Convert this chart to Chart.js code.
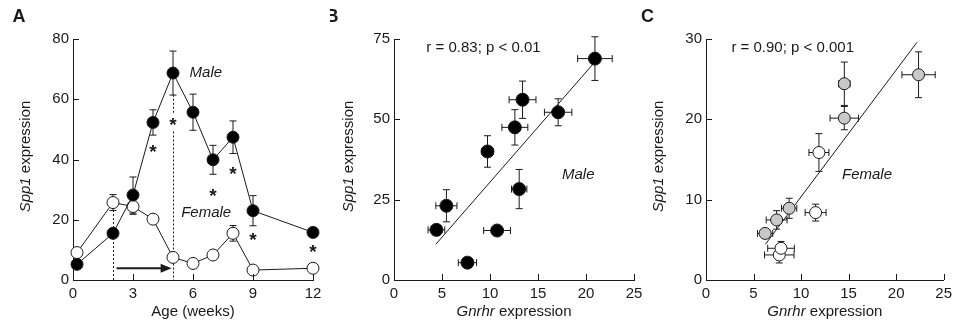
<!DOCTYPE html>
<html><head><meta charset="utf-8">
<script src="https://cdn.jsdelivr.net/npm/chart.js@4"></script>
<style>
html,body{margin:0;padding:0;background:#fff;}
#wrap{position:relative;width:957px;height:326px;overflow:hidden;background:#fff;}
canvas{position:absolute;top:0;}
</style></head><body>
<div id="wrap">
<canvas id="cA" width="330" height="326" style="left:0px"></canvas>
<canvas id="cB" width="320" height="326" style="left:330px"></canvas>
<canvas id="cC" width="317" height="326" style="left:640px"></canvas>
</div>
<script>
// ---------- Panel A: Spp1 expression vs age ----------
const ageWeeks      = [0.2, 2, 3, 4, 5, 6, 7, 8, 9, 12];
const maleSpp1      = [5.2, 15.5, 28.2, 52.3, 68.7, 55.7, 39.9, 47.4, 23.0, 15.8];
const maleSpp1Err   = [1.0, 1.5, 6.0, 4.2, 7.3, 6.0, 4.8, 5.4, 5.0, 1.2];
const femaleSpp1    = [9.1, 25.7, 24.4, 20.2, 7.5, 5.5, 8.3, 15.5, 3.3, 3.9];
const femaleSpp1Err = [1.0, 2.65, 2.6, 1.2, 1.0, 0.8, 1.0, 2.6, 0.8, 0.8];
const sigWeeks      = [4, 5, 7, 8, 9, 12];
const sigLevels     = [44.3, 53.2, 29.7, 36.8, 15.0, 11.1];
const ageTicks      = [0, 3, 6, 9, 12];
const spp1TicksA    = [0, 20, 40, 60, 80];

// ---------- Panel B: male Spp1 vs Gnrhr ----------
const maleGnrhr      = [4.42, 5.46, 7.65, 9.74, 10.74, 12.59, 13.04, 13.39, 17.1, 20.93];
const maleGnrhrErr   = [0.87, 1.1, 0.95, 0.6, 1.4, 1.35, 0.8, 1.4, 1.43, 1.8];
const maleSpp1B      = [15.6, 23.1, 5.4, 40.0, 15.4, 47.5, 28.3, 56.1, 52.2, 68.9];
const maleSpp1BErr   = [1.0, 5.0, 1.0, 4.9, 1.0, 5.5, 6.1, 5.8, 4.2, 6.8];
const maleFitX       = [4.35, 20.76];
const maleFitY       = [11.1, 67.3];
const gnrhrTicks     = [0, 5, 10, 15, 20, 25];
const spp1TicksB     = [0, 25, 50, 75];

// ---------- Panel C: female Spp1 vs Gnrhr ----------
const femGreyGnrhr    = [6.22, 7.43, 8.75, 14.55, 14.55, 22.36];
const femGreyGnrhrErr = [0.8, 1.1, 0.8, 1.5, 0.6, 1.75];
const femGreySpp1     = [5.8, 7.48, 8.93, 20.15, 24.43, 25.55];
const femGreySpp1Err  = [0.4, 1.15, 1.25, 1.45, 2.7, 2.85];
const femWhiteGnrhr    = [7.71, 7.89, 11.53, 11.88];
const femWhiteGnrhrErr = [1.55, 1.4, 1.1, 1.05];
const femWhiteSpp1     = [3.12, 3.95, 8.39, 15.87];
const femWhiteSpp1Err  = [1.0, 0.85, 1.05, 2.35];
const femFitX          = [6.25, 22.2];
const femFitY          = [4.45, 29.6];
const spp1TicksC       = [0, 10, 20, 30];

const FONT = '"Liberation Sans", Arial, Helvetica, sans-serif';
const INK = '#1a1a1a';

function pts(xs, ys){ return xs.map((x,i)=>({x:x, y:ys[i]})); }

function richWidth(ctx, parts, size){
  let w = 0;
  parts.forEach(p=>{ ctx.font = (p.i?'italic ':'') + (p.b?'bold ':'') + size + 'px ' + FONT; w += ctx.measureText(p.t).width; });
  return w;
}
function richText(ctx, parts, x, y, size, align, rot){
  ctx.save();
  ctx.translate(x, y);
  if (rot) ctx.rotate(rot);
  ctx.fillStyle = INK;
  ctx.textBaseline = 'middle';
  ctx.textAlign = 'left';
  const w = richWidth(ctx, parts, size);
  let cx = align === 'center' ? -w/2 : (align === 'right' ? -w : 0);
  parts.forEach(p=>{
    ctx.font = (p.i?'italic ':'') + (p.b?'bold ':'') + size + 'px ' + FONT;
    ctx.fillText(p.t, cx, 0);
    cx += ctx.measureText(p.t).width;
  });
  ctx.restore();
}

function makePlugin(cfg){
  return {
    id: 'panelDeco',
    beforeDatasetsDraw(chart){
      const ctx = chart.ctx, xs = chart.scales.x, ys = chart.scales.y;
      ctx.save();
      ctx.strokeStyle = INK; ctx.lineWidth = 1;
      // dotted guides
      (cfg.dotted||[]).forEach(d=>{
        ctx.save();
        ctx.setLineDash([2,2]);
        const px = Math.round(xs.getPixelForValue(d.x)) + 0.5;
        ctx.beginPath();
        ctx.moveTo(px, ys.getPixelForValue(d.y0));
        ctx.lineTo(px, ys.getPixelForValue(d.y1));
        ctx.stroke();
        ctx.restore();
      });
      // error bars
      chart.data.datasets.forEach((ds, di)=>{
        if (!ds.errY && !ds.errX) return;
        ds.data.forEach((p, j)=>{
          const px = xs.getPixelForValue(p.x), py = ys.getPixelForValue(p.y);
          const cap = 3.5;
          if (ds.errY){
            const e = ds.errY[j];
            const t = ys.getPixelForValue(p.y + e), b = ys.getPixelForValue(p.y - e);
            ctx.beginPath();
            ctx.moveTo(px, t); ctx.lineTo(px, b);
            ctx.moveTo(px-cap, t); ctx.lineTo(px+cap, t);
            ctx.moveTo(px-cap, b); ctx.lineTo(px+cap, b);
            ctx.stroke();
          }
          if (ds.errX){
            const e = ds.errX[j];
            const l = xs.getPixelForValue(p.x - e), r = xs.getPixelForValue(p.x + e);
            ctx.beginPath();
            ctx.moveTo(l, py); ctx.lineTo(r, py);
            ctx.moveTo(l, py-cap); ctx.lineTo(l, py+cap);
            ctx.moveTo(r, py-cap); ctx.lineTo(r, py+cap);
            ctx.stroke();
          }
        });
      });
      // arrow
      if (cfg.arrow){
        const a = cfg.arrow;
        const x0 = xs.getPixelForValue(a.x0), x1 = xs.getPixelForValue(a.x1), y = ys.getPixelForValue(a.y);
        ctx.lineWidth = 2;
        ctx.beginPath(); ctx.moveTo(x0, y); ctx.lineTo(x1-9, y); ctx.stroke();
        ctx.fillStyle = INK;
        ctx.beginPath(); ctx.moveTo(x1, y); ctx.lineTo(x1-11, y-4.5); ctx.lineTo(x1-11, y+4.5); ctx.closePath(); ctx.fill();
      }
      ctx.restore();
    },
    afterDatasetsDraw(chart){
      const ctx = chart.ctx, xs = chart.scales.x, ys = chart.scales.y;
      (cfg.labels||[]).forEach(l=>{
        richText(ctx, l.parts, xs.getPixelForValue(l.x), ys.getPixelForValue(l.y), l.size||15, l.align||'center');
      });
      if (cfg.stars){
        ctx.save();
        ctx.fillStyle = INK;
        ctx.font = 'bold 19px ' + FONT;
        ctx.textAlign = 'center';
        ctx.textBaseline = 'alphabetic';
        cfg.stars.x.forEach((x,i)=>{
          ctx.fillText('*', xs.getPixelForValue(x), ys.getPixelForValue(cfg.stars.y[i]) + 11);
        });
        ctx.restore();
      }
    },
    afterDraw(chart){
      const ctx = chart.ctx, xs = chart.scales.x, ys = chart.scales.y, ca = chart.chartArea;
      ctx.save();
      ctx.strokeStyle = INK; ctx.lineWidth = 1;
      ctx.beginPath();
      xs.ticks.forEach(t=>{
        const px = Math.round(xs.getPixelForValue(t.value)) + 0.5;
        ctx.moveTo(px, ca.bottom); ctx.lineTo(px, ca.bottom - 6);
      });
      ys.ticks.forEach(t=>{
        const py = Math.round(ys.getPixelForValue(t.value)) + 0.5;
        ctx.moveTo(ca.left, py); ctx.lineTo(ca.left + 6, py);
      });
      ctx.stroke();
      ctx.restore();
      // axis titles
      richText(ctx, cfg.xTitle, (ca.left+ca.right)/2 + (cfg.xTitleDx||0), 311.5, 15, 'center');
      richText(ctx, cfg.yTitle, cfg.yTitleX, 156.5, 15, 'center', -Math.PI/2);
      // panel letter
      richText(ctx, [{t:cfg.letter, b:true}], cfg.letterX, 17, 18, 'center');
    }
  };
}

function axisCfg(min, max, ticks, fitProp, fitVal, pad){
  return {
    type: 'linear', min: min, max: max,
    afterBuildTicks: s => { s.ticks = ticks.map(v=>({value:v})); },
    afterFit: s => { s[fitProp] = fitVal; },
    grid: { display: false, drawTicks: false },
    border: { display: true, color: INK, width: 1 },
    ticks: { color: INK, font: { family: FONT, size: 15 }, padding: pad, autoSkip: false, maxRotation: 0 }
  };
}

function baseOptions(xAx, yAx, padRight){
  return {
    responsive: false, animation: false, devicePixelRatio: 1,
    layout: { padding: { left: 0, top: 39, right: padRight, bottom: 0 } },
    plugins: { legend: { display: false }, tooltip: { enabled: false }, title: { display: false } },
    scales: { x: xAx, y: yAx }
  };
}

const pointStyle = (bg, r) => ({ pointRadius: r, pointBackgroundColor: bg, pointBorderColor: INK, pointBorderWidth: 1, clip: false });

// ---- Chart A ----
new Chart(document.getElementById('cA'), {
  type: 'scatter',
  data: { datasets: [
    Object.assign({ label: 'Male', data: pts(ageWeeks, maleSpp1), errY: maleSpp1Err, showLine: true, borderColor: INK, borderWidth: 1 }, pointStyle('#000', 6)),
    Object.assign({ label: 'Female', data: pts(ageWeeks, femaleSpp1), errY: femaleSpp1Err, showLine: true, borderColor: INK, borderWidth: 1 }, pointStyle('#fff', 6))
  ]},
  options: baseOptions(axisCfg(0, 12, ageTicks, 'height', 46, 5), axisCfg(0, 80, spp1TicksA, 'width', 73, 4), 17),
  plugins: [makePlugin({
    letter: 'A', letterX: 19,
    xTitle: [{t:'Age (weeks)'}],
    yTitle: [{t:'Spp1', i:true}, {t:' expression'}], yTitleX: 26,
    dotted: [{x:2, y0:0, y1:23}, {x:5, y0:61.5, y1:55.5}, {x:5, y0:49.3, y1:0}],
    arrow: {x0: 2.18, x1: 4.93, y: 3.9},
    stars: {x: sigWeeks, y: sigLevels},
    labels: [
      {parts:[{t:'Male', i:true}], x: 6.64, y: 68.9},
      {parts:[{t:'Female', i:true}], x: 6.66, y: 22.2}
    ]
  })]
});

// ---- Chart B ----
new Chart(document.getElementById('cB'), {
  type: 'scatter',
  data: { datasets: [
    Object.assign({ label: 'Male', data: pts(maleGnrhr, maleSpp1B), errX: maleGnrhrErr, errY: maleSpp1BErr }, pointStyle('#000', 6.5)),
    { label: 'fit', data: pts(maleFitX, maleFitY), showLine: true, borderColor: INK, borderWidth: 1, pointRadius: 0, clip: false }
  ]},
  options: baseOptions(axisCfg(0, 25, gnrhrTicks, 'height', 46, 5), axisCfg(0, 75, spp1TicksB, 'width', 64, 4), 16),
  plugins: [makePlugin({
    letter: 'B', letterX: 2,
    xTitle: [{t:'Gnrhr', i:true}, {t:' expression'}],
    yTitle: [{t:'Spp1', i:true}, {t:' expression'}], yTitleX: 18.5,
    labels: [
      {parts:[{t:'r = 0.83; p < 0.01'}], x: 3.37, y: 72.2, align: 'left'},
      {parts:[{t:'Male', i:true}], x: 19.19, y: 32.7}
    ]
  })]
});

// ---- Chart C ----
new Chart(document.getElementById('cC'), {
  type: 'scatter',
  data: { datasets: [
    Object.assign({ label: 'Grey', data: pts(femGreyGnrhr, femGreySpp1), errX: femGreyGnrhrErr, errY: femGreySpp1Err }, pointStyle('#c8c8c8', 6)),
    Object.assign({ label: 'White', data: pts(femWhiteGnrhr, femWhiteSpp1), errX: femWhiteGnrhrErr, errY: femWhiteSpp1Err }, pointStyle('#fff', 6)),
    { label: 'fit', data: pts(femFitX, femFitY), showLine: true, borderColor: INK, borderWidth: 1, pointRadius: 0, clip: false }
  ]},
  options: baseOptions(axisCfg(0, 25, gnrhrTicks, 'height', 46, 5), axisCfg(0, 30, spp1TicksC, 'width', 66, 4), 11),
  plugins: [makePlugin({
    letter: 'C', letterX: 7.5,
    xTitle: [{t:'Gnrhr', i:true}, {t:' expression'}],
    yTitle: [{t:'Spp1', i:true}, {t:' expression'}], yTitleX: 18.5,
    labels: [
      {parts:[{t:'r = 0.90; p < 0.001'}], x: 2.67, y: 28.87, align: 'left'},
      {parts:[{t:'Female', i:true}], x: 16.94, y: 13.09}
    ]
  })]
});
</script>
</body></html>
